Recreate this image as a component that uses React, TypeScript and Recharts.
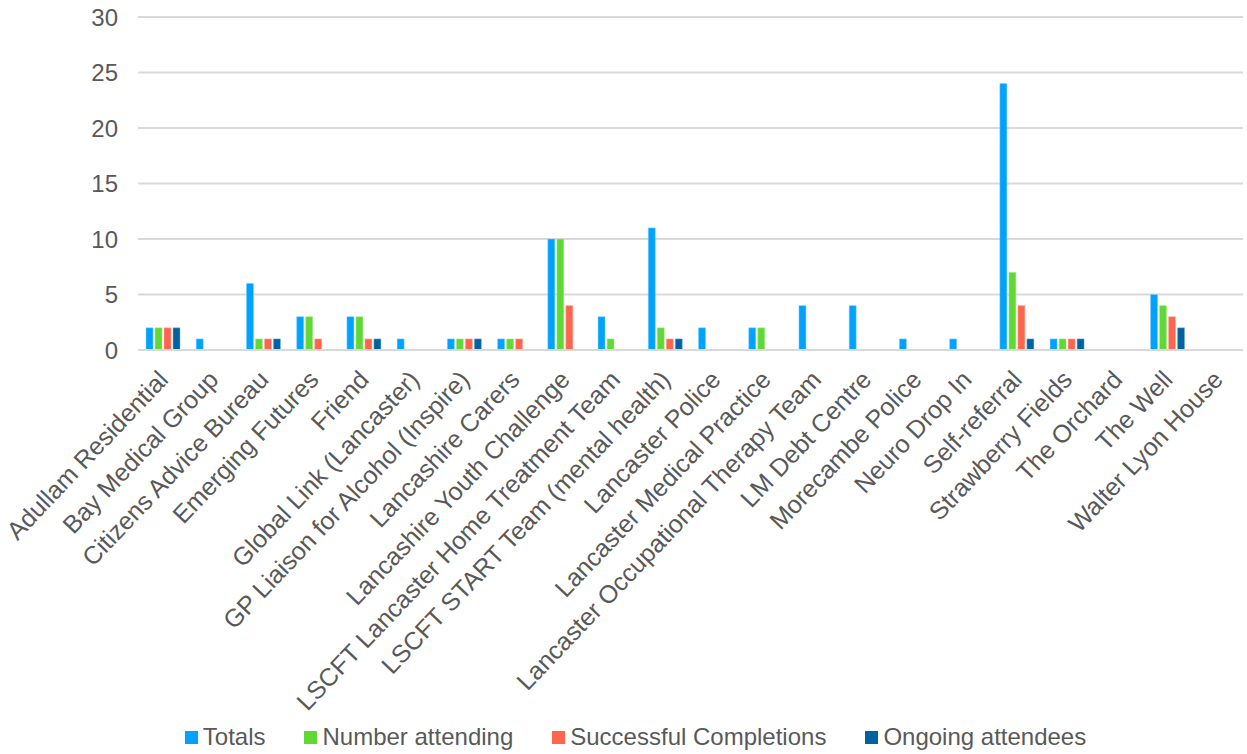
import React from "react";
import {
  BarChart,
  Bar,
  XAxis,
  YAxis,
  CartesianGrid,
  Legend,
} from "recharts";

const categories = [
  "Adullam Residential",
  "Bay Medical Group",
  "Citizens Advice Bureau",
  "Emerging Futures",
  "Friend",
  "Global Link (Lancaster)",
  "GP Liaison for Alcohol (Inspire)",
  "Lancashire Carers",
  "Lancashire Youth Challenge",
  "LSCFT Lancaster Home Treatment Team",
  "LSCFT START Team (mental health)",
  "Lancaster Police",
  "Lancaster Medical Practice",
  "Lancaster Occupational Therapy Team",
  "LM Debt Centre",
  "Morecambe Police",
  "Neuro Drop In",
  "Self-referral",
  "Strawberry Fields",
  "The Orchard",
  "The Well",
  "Walter Lyon House",
];

const totals = [2, 1, 6, 3, 3, 1, 1, 1, 10, 3, 11, 2, 2, 4, 4, 1, 1, 24, 1, 0, 5, 0];
const attending = [2, 0, 1, 3, 3, 0, 1, 1, 10, 1, 2, 0, 2, 0, 0, 0, 0, 7, 1, 0, 4, 0];
const completions = [2, 0, 1, 1, 1, 0, 1, 1, 4, 0, 1, 0, 0, 0, 0, 0, 0, 4, 1, 0, 3, 0];
const ongoing = [2, 0, 1, 0, 1, 0, 1, 0, 0, 0, 1, 0, 0, 0, 0, 0, 0, 1, 1, 0, 2, 0];

const yTicks = [0, 5, 10, 15, 20, 25, 30];

const seriesNames = ["Totals", "Number attending", "Successful Completions", "Ongoing attendees"];
const seriesColors = ["#00A2FF", "#61D836", "#FF644E", "#00629E"];

const data = categories.map((name, i) => ({
  name,
  totals: totals[i],
  attending: attending[i],
  completions: completions[i],
  ongoing: ongoing[i],
}));

const FONT = "'Liberation Sans', Arial, sans-serif";
const TEXT = "#595959";

// rotated category label, anchored at its end on the tick
function AngledTick(props: any) {
  const { x, y, payload } = props;
  return (
    <g transform={`translate(${x - 3},${y + 14})`}>
      <text
        transform="rotate(-46.5)"
        textAnchor="end"
        dy={13}
        fontSize={25}
        fontFamily={FONT}
        fill={TEXT}
      >
        {payload.value}
      </text>
    </g>
  );
}

function LegendBox() {
  return (
    <div
      style={{
        height: 30,
        display: "flex",
        justifyContent: "center",
        alignItems: "center",
        fontFamily: FONT,
        fontSize: 24,
        color: TEXT,
        paddingLeft: 28,
      }}
    >
      {seriesNames.map((n, i) => (
        <span key={n} style={{ display: "flex", alignItems: "center", marginRight: i < 3 ? 39 : 0 }}>
          <span style={{ width: 13, height: 13, background: seriesColors[i], marginRight: 5 }} />
          {n}
        </span>
      ))}
    </div>
  );
}

export default function App() {
  return (
    <div style={{ position: "fixed", left: 0, top: 0, background: "#fff" }}>
      <BarChart
        width={1247}
        height={754}
        data={data}
        margin={{ top: 17, right: 4, left: 0, bottom: 2 }}
        barGap={2}
        barCategoryGap={8}
      >
        <CartesianGrid vertical={false} stroke="#D9D9D9" strokeWidth={2} />
        <XAxis
          dataKey="name"
          interval={0}
          height={372}
          tick={<AngledTick />}
          tickLine={false}
          axisLine={{ stroke: "#D9D9D9", strokeWidth: 2 }}
        />
        <YAxis
          width={138}
          domain={[0, 30]}
          ticks={yTicks}
          tick={{ fontSize: 24, fill: TEXT, fontFamily: FONT, dx: -12 }}
          axisLine={false}
          tickLine={false}
        />
        <Legend verticalAlign="bottom" height={30} content={<LegendBox />} />
        <Bar dataKey="totals" name={seriesNames[0]} fill={seriesColors[0]} stroke="#7FD0FF" strokeWidth={0.5} isAnimationActive={false} />
        <Bar dataKey="attending" name={seriesNames[1]} fill={seriesColors[1]} stroke="#B0EC9A" strokeWidth={0.5} isAnimationActive={false} />
        <Bar dataKey="completions" name={seriesNames[2]} fill={seriesColors[2]} stroke="#FFB1A6" strokeWidth={0.5} isAnimationActive={false} />
        <Bar dataKey="ongoing" name={seriesNames[3]} fill={seriesColors[3]} stroke="#7FB0CE" strokeWidth={0.5} isAnimationActive={false} />
      </BarChart>
    </div>
  );
}
